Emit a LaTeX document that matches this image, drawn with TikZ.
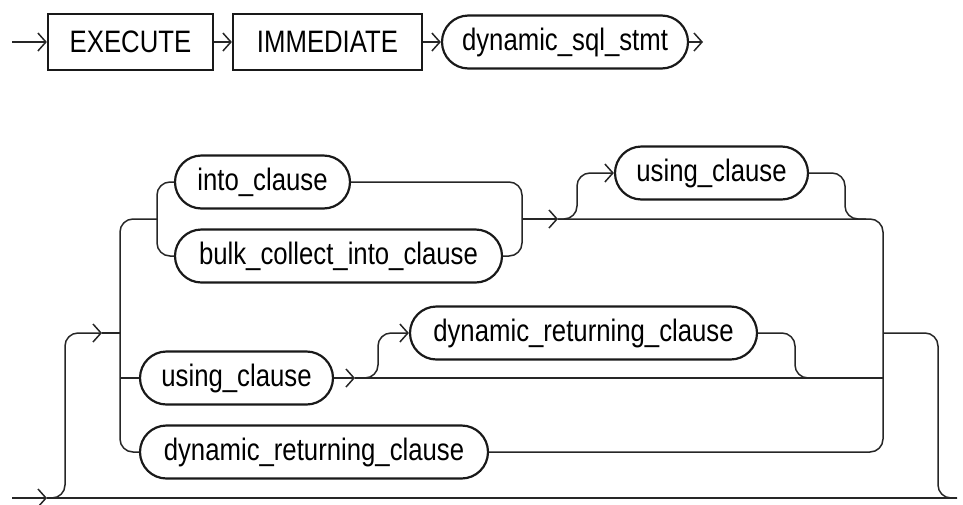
\documentclass[tikz,border=0pt]{standalone}
\usepackage{fontspec}
\setmainfont{Liberation Sans}[FakeStretch=0.83]
\usetikzlibrary{shapes.misc,arrows.meta}
\begin{document}
\begin{tikzpicture}[x=1pt,y=-1pt,
  conn/.style={draw=black!85, line width=1.5pt},
  rc/.style={rounded corners=13pt},
  arr/.style={conn, -{Straight Barb[length=8pt,width=18pt,line width=1.5pt]}},
  lbl/.style={font=\fontsize{31}{36}\selectfont, inner sep=0pt},
  kw/.style={lbl, draw=black!90, line width=2.2pt, rectangle, minimum height=56pt},
  nt/.style={lbl, draw=black!90, line width=2.2pt, rounded rectangle, minimum height=53pt}]
\useasboundingbox (0,0) rectangle (963,504);

% statement head
\node[kw, minimum width=165pt] (exec) at (130.5,42) {EXECUTE};
\node[kw, minimum width=189pt] (imm) at (327.5,42) {IMMEDIATE};
\node[nt, minimum width=246pt] (dss) at (565,42) {dynamic\_sql\_stmt};
\coordinate (in0) at (12,42);
\coordinate (out0) at (703,42);
\draw[arr] (in0) -- (exec.west);
\draw[arr] (exec.east) -- (imm.west);
\draw[arr] (imm.east) -- (dss.west);
\draw[arr] (dss.east) -- (out0);

% optional clauses
\node[nt, minimum width=175pt] (into) at (262.5,182) {into\_clause};
\node[nt, minimum width=327pt] (bulk) at (338.5,256) {bulk\_collect\_into\_clause};
\node[nt, minimum width=193pt] (usingA) at (711.5,173) {using\_clause};
\node[nt, minimum width=347pt] (dretA) at (583.5,333) {dynamic\_returning\_clause};
\node[nt, minimum width=193pt] (usingB) at (236.5,378) {using\_clause};
\node[nt, minimum width=348pt] (dretB) at (314,452) {dynamic\_returning\_clause};

\coordinate (start) at (12,498);
\coordinate (skipTip) at (47,498);
\coordinate (finish) at (957,498);
\coordinate (loopTip) at (102,333);
\coordinate (splitA) at (558,219);
\coordinate (splitB) at (355,378);

% bypass line and entry branch
\draw[arr] (start) -- (skipTip);
\draw[conn] (skipTip) -- (finish);
\draw[arr, rc] (skipTip) -| (65,333) -- (loopTip);
\draw[conn] (loopTip) -- (120,333);

% left bus
\draw[conn, rc] (157,219) -| (120,452) -- (dretB.west);
\draw[conn] (120,378) -- (usingB.west);

% into / bulk collect choice
\draw[conn, rc] (into.west) -| (157,256) -- (bulk.west);
\draw[conn, rc] (into.east) -| (522,256) -- (bulk.east);
\draw[arr] (522,219) -- (splitA);
\draw[conn, rc] (splitA) -| (883,452) -- (dretB.east);
\draw[arr, rc] (splitA) -| (577,173) -- (usingA.west);
\draw[conn, rc] (usingA.east) -| (845,219) -- (866,219);

% using clause with optional returning clause
\draw[arr] (usingB.east) -- (splitB);
\draw[conn] (splitB) -- (883,378);
\draw[arr, rc] (splitB) -| (378,333) -- (dretA.west);
\draw[conn, rc] (dretA.east) -| (795,378) -- (816,378);

% exit back to the main line
\draw[conn, rc] (883,333) -| (938,498) -- (finish);
\end{tikzpicture}
\end{document}
